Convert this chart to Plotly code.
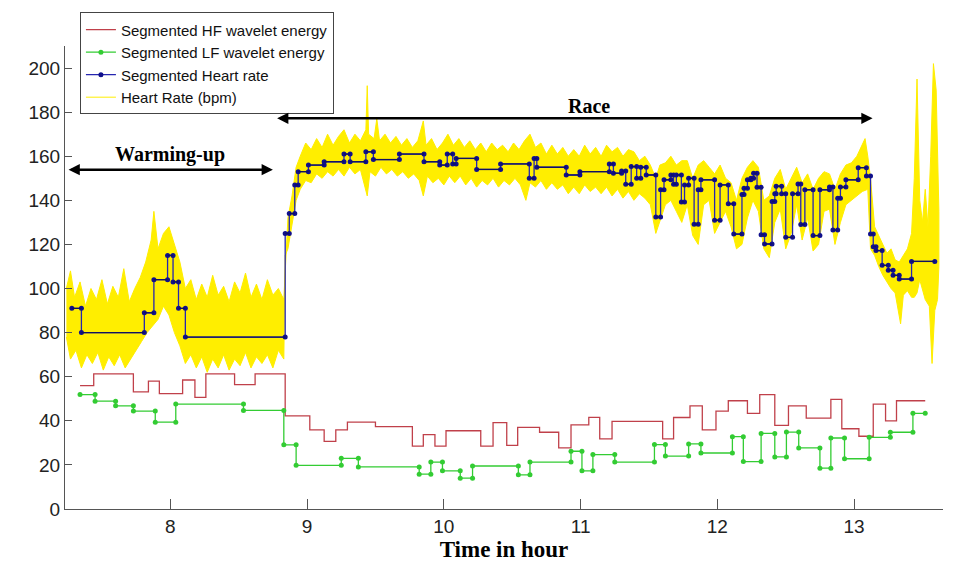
import plotly.graph_objects as go

# ---------------- data ----------------
# Segmented heart rate: segment edges (hour) and levels (bpm)
hr_seg_edges = [7.28, 7.35, 7.81, 7.88, 7.98, 8.02, 8.06, 8.11, 8.84, 8.87, 8.91, 8.935, 9.01,
                9.125, 9.27, 9.315, 9.43, 9.485, 9.675, 9.855, 9.97, 10.025, 10.065, 10.09, 10.24,
                10.415, 10.625, 10.66, 10.68, 10.895, 10.995, 11.21, 11.24, 11.30, 11.33, 11.37,
                11.41, 11.44, 11.48, 11.55, 11.585, 11.61, 11.66, 11.68, 11.70, 11.737, 11.76,
                11.79, 11.83, 11.86, 11.88, 11.98, 12.02, 12.08, 12.12, 12.18, 12.195, 12.22,
                12.245, 12.265, 12.29, 12.32, 12.345, 12.40, 12.42, 12.43, 12.47, 12.50, 12.55,
                12.59, 12.61, 12.64, 12.70, 12.75, 12.82, 12.845, 12.88, 12.90, 12.94, 13.03,
                13.09, 13.12, 13.14, 13.16, 13.205, 13.25, 13.285, 13.33, 13.42, 13.59]
hr_seg_levels = [91, 80, 89, 104, 115, 103, 91, 78, 125, 134, 147, 153, 156, 157.5, 161, 157.5,
                 162, 158.5, 161, 157.5, 156, 161, 156.5, 159, 154, 156.5, 150, 159, 155, 151.5,
                 153, 156.5, 152.3, 153.3, 147.3, 155.3, 150, 155, 151.5, 132.4, 144.8, 149.3,
                 151.5, 147.3, 151.5, 139.3, 147, 150, 129.2, 144.8, 149.3, 131, 147, 138.4,
                 124.7, 142.6, 145.5, 149.3, 150, 152.3, 145.9, 124.4, 120.2, 139.5, 143, 146.4,
                 143, 123.2, 143, 147.4, 129, 144.8, 124, 144.8, 146, 126.5, 141, 146, 149.3,
                 154.8, 151, 124.7, 119, 117.2, 110.5, 108.3, 106, 104.3, 112.3]

# Segmented HF wavelet energy
hf_edges = [7.34, 7.44, 7.73, 7.84, 7.92, 8.09, 8.18, 8.26, 8.47, 8.62, 8.84, 9.02, 9.125, 9.21,
            9.295, 9.50, 9.77, 9.85, 9.935, 10.016, 10.27, 10.36, 10.46, 10.54, 10.70, 10.84,
            10.93, 11.06, 11.14, 11.23, 11.60, 11.68, 11.80, 11.89, 11.99, 12.08, 12.22, 12.31,
            12.42, 12.52, 12.65, 12.83, 12.91, 13.035, 13.14, 13.23, 13.31, 13.52]
hf_levels = [56, 61.3, 53.1, 58, 52.3, 58.5, 50.6, 61.3, 56.4, 61.3, 42.2, 35.9, 30.7, 35.9,
             39.4, 37.4, 28.5, 33.7, 28.5, 35.5, 28.5, 39.2, 28.9, 37, 34.8, 27.7, 38.2, 41.6,
             31.8, 39.7, 31.8, 41.5, 46.8, 35.9, 44.4, 49.1, 43.4, 51.9, 37.9, 46.8, 41.2, 49.7,
             36.4, 33, 47.6, 40, 49.1]

# Segmented LF wavelet energy
lf_edges = [7.34, 7.45, 7.60, 7.73, 7.89, 8.04, 8.535, 8.83, 8.92, 9.25, 9.375, 9.82, 9.905,
            9.99, 10.12, 10.21, 10.545, 10.63, 10.93, 11.01, 11.09, 11.25, 11.54, 11.62, 11.79,
            11.88, 12.11, 12.19, 12.32, 12.42, 12.505, 12.595, 12.75, 12.83, 12.93, 13.11,
            13.265, 13.43, 13.52]
lf_levels = [51.9, 48.9, 46.8, 44.4, 39.4, 47.6, 44.7, 29.1, 19.8, 23, 19.1, 15.8, 21.3, 17.3,
             14, 19.5, 15.5, 21.3, 26.2, 17.3, 24.7, 21.3, 29.2, 24, 29.5, 25.4, 32.8, 21.5,
             34.3, 23.6, 34.9, 27.7, 18.5, 32.2, 22.8, 32.5, 34.8, 43.4]

# Raw heart rate (bpm): upper / lower envelope of the noisy trace
warm_up_t = [7.24, 7.27, 7.30, 7.34, 7.38, 7.42, 7.46, 7.50, 7.54, 7.58, 7.62, 7.66, 7.70, 7.74,
             7.78, 7.82, 7.86, 7.88, 7.91, 7.95, 7.99, 8.03, 8.07, 8.11, 8.15, 8.19, 8.23, 8.27,
             8.31, 8.35, 8.39, 8.43, 8.47, 8.51, 8.55, 8.59, 8.63, 8.67, 8.71, 8.75, 8.79, 8.83]
warm_up_hi = [100, 108, 96, 103, 92, 100, 95, 104, 93, 101, 96, 109, 94, 100, 105, 112, 122, 135,
              118, 125, 128, 120, 112, 100, 104, 95, 102, 96, 106, 97, 101, 94, 103, 98, 107, 96,
              102, 95, 104, 97, 100, 95]
warm_lo_t = [7.24, 7.27, 7.31, 7.35, 7.39, 7.43, 7.47, 7.51, 7.55, 7.59, 7.63, 7.67, 7.71, 7.75,
             7.79, 7.83, 7.87, 7.91, 7.95, 7.99, 8.03, 8.07, 8.11, 8.15, 8.19, 8.23, 8.27, 8.31,
             8.35, 8.39, 8.43, 8.47, 8.51, 8.55, 8.59, 8.63, 8.67, 8.71, 8.75, 8.79, 8.83]
warm_lo = [78, 68, 72, 64, 70, 66, 71, 63, 69, 65, 70, 64, 68, 72, 76, 80, 83, 86, 92, 88, 80, 74,
           66, 70, 64, 69, 62, 68, 64, 70, 63, 68, 65, 71, 64, 69, 66, 70, 64, 72, 68]

race_hi_t = [8.84, 8.86, 8.89, 8.92, 8.95, 8.99, 9.03, 9.07, 9.11, 9.15, 9.19, 9.23, 9.27, 9.31,
             9.35, 9.39, 9.43, 9.44, 9.45, 9.49, 9.51, 9.53, 9.57, 9.61, 9.65, 9.69, 9.73, 9.77,
             9.81, 9.85, 9.87, 9.91, 9.95, 9.99, 10.03, 10.07, 10.11, 10.15, 10.19, 10.23, 10.27,
             10.31, 10.35, 10.39, 10.43, 10.47, 10.51, 10.55, 10.59, 10.63, 10.67, 10.71, 10.75,
             10.79, 10.83, 10.87, 10.91, 10.95, 10.99, 11.03, 11.07, 11.11, 11.15, 11.19, 11.23,
             11.27, 11.31, 11.35, 11.39, 11.43, 11.47, 11.51, 11.55, 11.58, 11.62, 11.66, 11.70,
             11.74, 11.78, 11.82, 11.86, 11.90, 11.94, 11.98, 12.02, 12.06, 12.10, 12.14, 12.18,
             12.22, 12.26, 12.30, 12.34, 12.38, 12.42, 12.46, 12.50, 12.54, 12.58, 12.62, 12.66,
             12.70, 12.74, 12.78, 12.82, 12.86, 12.90, 12.94, 12.98, 13.02, 13.06, 13.08, 13.10]
race_hi = [110, 132, 142, 155, 160, 166, 163, 168, 164, 170, 165, 169, 172, 166, 170, 167, 172,
           192, 170, 168, 177, 167, 170, 166, 169, 165, 168, 164, 167, 176, 165, 168, 163, 166,
           170, 165, 168, 164, 167, 163, 166, 162, 166, 163, 165, 162, 166, 163, 167, 170, 164,
           166, 161, 165, 161, 164, 160, 163, 160, 165, 161, 164, 160, 165, 162, 164, 160, 163,
           162, 158, 160, 156, 150, 156, 157, 160, 156, 158, 158, 150, 156, 158, 155, 152, 156,
           150, 148, 140, 150, 155, 158, 155, 140, 142, 150, 154, 145, 150, 155, 148, 152, 145,
           150, 153, 152, 145, 152, 156, 157, 160, 165, 168, 160]
race_lo_t = [8.84, 8.86, 8.89, 8.92, 8.95, 8.99, 9.03, 9.07, 9.11, 9.15, 9.19, 9.23, 9.27, 9.31,
             9.35, 9.39, 9.44, 9.46, 9.50, 9.54, 9.58, 9.62, 9.66, 9.70, 9.74, 9.78, 9.82, 9.85,
             9.88, 9.92, 9.96, 10.00, 10.04, 10.08, 10.12, 10.16, 10.20, 10.24, 10.28, 10.32,
             10.36, 10.40, 10.44, 10.48, 10.52, 10.56, 10.60, 10.63, 10.67, 10.71, 10.75, 10.79,
             10.83, 10.87, 10.91, 10.95, 10.99, 11.03, 11.07, 11.11, 11.15, 11.19, 11.23, 11.27,
             11.31, 11.35, 11.39, 11.43, 11.47, 11.51, 11.55, 11.58, 11.62, 11.66, 11.70, 11.74,
             11.78, 11.82, 11.86, 11.90, 11.94, 11.98, 12.02, 12.06, 12.10, 12.14, 12.18, 12.22,
             12.26, 12.30, 12.34, 12.38, 12.42, 12.46, 12.50, 12.54, 12.58, 12.62, 12.66, 12.70,
             12.74, 12.78, 12.82, 12.86, 12.90, 12.94, 12.98, 13.02, 13.06, 13.10]
race_lo = [115, 118, 128, 140, 145, 149, 148, 152, 150, 153, 151, 154, 151, 155, 152, 154, 142,
           153, 151, 155, 152, 154, 151, 153, 150, 152, 149, 142, 151, 148, 150, 147, 151, 148,
           151, 147, 150, 146, 149, 147, 150, 146, 149, 147, 150, 147, 140, 148, 146, 149, 145,
           148, 145, 147, 143, 146, 143, 147, 144, 146, 143, 146, 142, 145, 141, 144, 140, 143,
           141, 138, 125, 130, 138, 140, 135, 130, 138, 124, 120, 138, 140, 125, 130, 135, 128,
           118, 120, 132, 140, 135, 118, 114, 130, 136, 118, 125, 138, 122, 132, 117, 120, 135,
           136, 120, 130, 138, 140, 142, 144, 145]

rec_hi_t = [13.12, 13.15, 13.18, 13.21, 13.24, 13.27, 13.30, 13.33, 13.36, 13.39, 13.42, 13.44,
            13.46, 13.48, 13.50, 13.52, 13.54, 13.56, 13.58, 13.60, 13.62]
rec_hi = [150, 128, 124, 120, 116, 118, 113, 112, 115, 118, 125, 150, 195, 140, 130, 145, 128,
          160, 202, 190, 135]
rec_lo_t = [13.12, 13.15, 13.18, 13.21, 13.24, 13.27, 13.30, 13.34, 13.36, 13.39, 13.42, 13.44,
            13.46, 13.48, 13.50, 13.52, 13.55, 13.57, 13.59, 13.61, 13.62]
rec_lo = [118, 115, 110, 106, 103, 100, 98, 84, 97, 99, 96, 96, 98, 104, 100, 95, 92, 66, 90, 95,
          110]

x_ticks = [8, 9, 10, 11, 12, 13]
y_ticks = [0, 20, 40, 60, 80, 100, 120, 140, 160, 180, 200]

# ---------------- helpers ----------------
def step_xy(edges, levels):
    xs, ys = [], []
    for i, v in enumerate(levels):
        xs += [edges[i], edges[i + 1]]
        ys += [v, v]
    return xs, ys


def horiz_xy(edges, levels):
    xs, ys = [], []
    for i, v in enumerate(levels):
        xs += [edges[i], edges[i + 1], None]
        ys += [v, v, None]
    return xs, ys


up_t = warm_up_t + race_hi_t + rec_hi_t
up_v = warm_up_hi + race_hi + rec_hi
lo_t = warm_lo_t + race_lo_t + rec_lo_t
lo_v = warm_lo + race_lo + rec_lo

YELLOW = "#ffee00"
RED = "#c0404a"
GREEN = "#33cc33"
BLUE = "#2626b0"
NAVY = "#101060"

fig = go.Figure()

# raw heart rate band
fig.add_trace(go.Scatter(
    x=up_t + lo_t[::-1], y=up_v + lo_v[::-1], fill="toself", fillcolor=YELLOW,
    mode="lines", line=dict(color=YELLOW, width=1), showlegend=False, hoverinfo="skip"))
fig.add_trace(go.Scatter(
    x=[None], y=[None], mode="lines", line=dict(color=YELLOW, width=1),
    name="Heart Rate (bpm)", legendrank=4))

hx, hy = step_xy(hf_edges, hf_levels)
fig.add_trace(go.Scatter(x=hx, y=hy, mode="lines", line=dict(color=RED, width=1.3),
                         name="Segmented HF wavelet energy", legendrank=1))

lx, ly = step_xy(lf_edges, lf_levels)
fig.add_trace(go.Scatter(x=lx, y=ly, mode="lines+markers", line=dict(color=GREEN, width=1.3),
                         marker=dict(color=GREEN, size=5),
                         name="Segmented LF wavelet energy", legendrank=2))

bx, by = step_xy(hr_seg_edges, hr_seg_levels)
fig.add_trace(go.Scatter(x=bx, y=by, mode="lines+markers", line=dict(color=BLUE, width=1.3),
                         marker=dict(color="#10108c", size=5),
                         name="Segmented Heart rate", legendrank=3))
nx, ny = horiz_xy(hr_seg_edges, hr_seg_levels)
fig.add_trace(go.Scatter(x=nx, y=ny, mode="lines", line=dict(color=NAVY, width=1.3),
                         showlegend=False, hoverinfo="skip"))

# phase annotations
arrow_font = dict(family="Liberation Serif, Times New Roman, serif", size=20, color="black")
fig.add_annotation(x=8.75, y=153.9, ax=7.245, ay=153.9, xref="x", yref="y", axref="x", ayref="y",
                   text="", showarrow=True, arrowhead=2, startarrowhead=2, arrowside="end+start",
                   arrowwidth=2.5, arrowsize=0.9, startarrowsize=0.9, arrowcolor="black")
fig.add_annotation(x=8.0, y=160.6, text="<b>Warming-up</b>", showarrow=False, font=arrow_font)
fig.add_annotation(x=13.135, y=177.2, ax=8.77, ay=177.2, xref="x", yref="y", axref="x", ayref="y",
                   text="", showarrow=True, arrowhead=2, startarrowhead=2, arrowside="end+start",
                   arrowwidth=2.5, arrowsize=0.9, startarrowsize=0.9, arrowcolor="black")
fig.add_annotation(x=11.06, y=183, text="<b>Race</b>", showarrow=False, font=arrow_font)

sans = "Liberation Sans, Arial, Helvetica, sans-serif"
fig.update_layout(
    width=970, height=569,
    margin=dict(l=65, r=27, t=43, b=57),
    paper_bgcolor="white", plot_bgcolor="white",
    font=dict(family=sans, size=19, color="#222"),
    showlegend=True,
    legend=dict(x=0.017, y=1.0725, xanchor="left", yanchor="top",
                bgcolor="white", bordercolor="#444", borderwidth=1,
                font=dict(family=sans, size=15, color="#111"),
                tracegroupgap=0, itemwidth=30),
    xaxis=dict(range=[7.23, 13.65], tickvals=x_ticks, ticktext=[str(t) for t in x_ticks],
               showgrid=False, zeroline=False, showline=True, linecolor="#555", linewidth=1,
               ticks="inside", ticklen=10, tickcolor="#555",
               title=dict(text="<b>Time in hour</b>", standoff=4,
                          font=dict(family="Liberation Serif, Times New Roman, serif",
                                    size=23, color="black"))),
    yaxis=dict(range=[0, 210], tickvals=y_ticks, ticktext=[str(t) for t in y_ticks],
               showgrid=False, zeroline=False, showline=True, linecolor="#555", linewidth=1,
               ticks="inside", ticklen=7, tickcolor="#555"),
)

fig.write_html("out.html")
